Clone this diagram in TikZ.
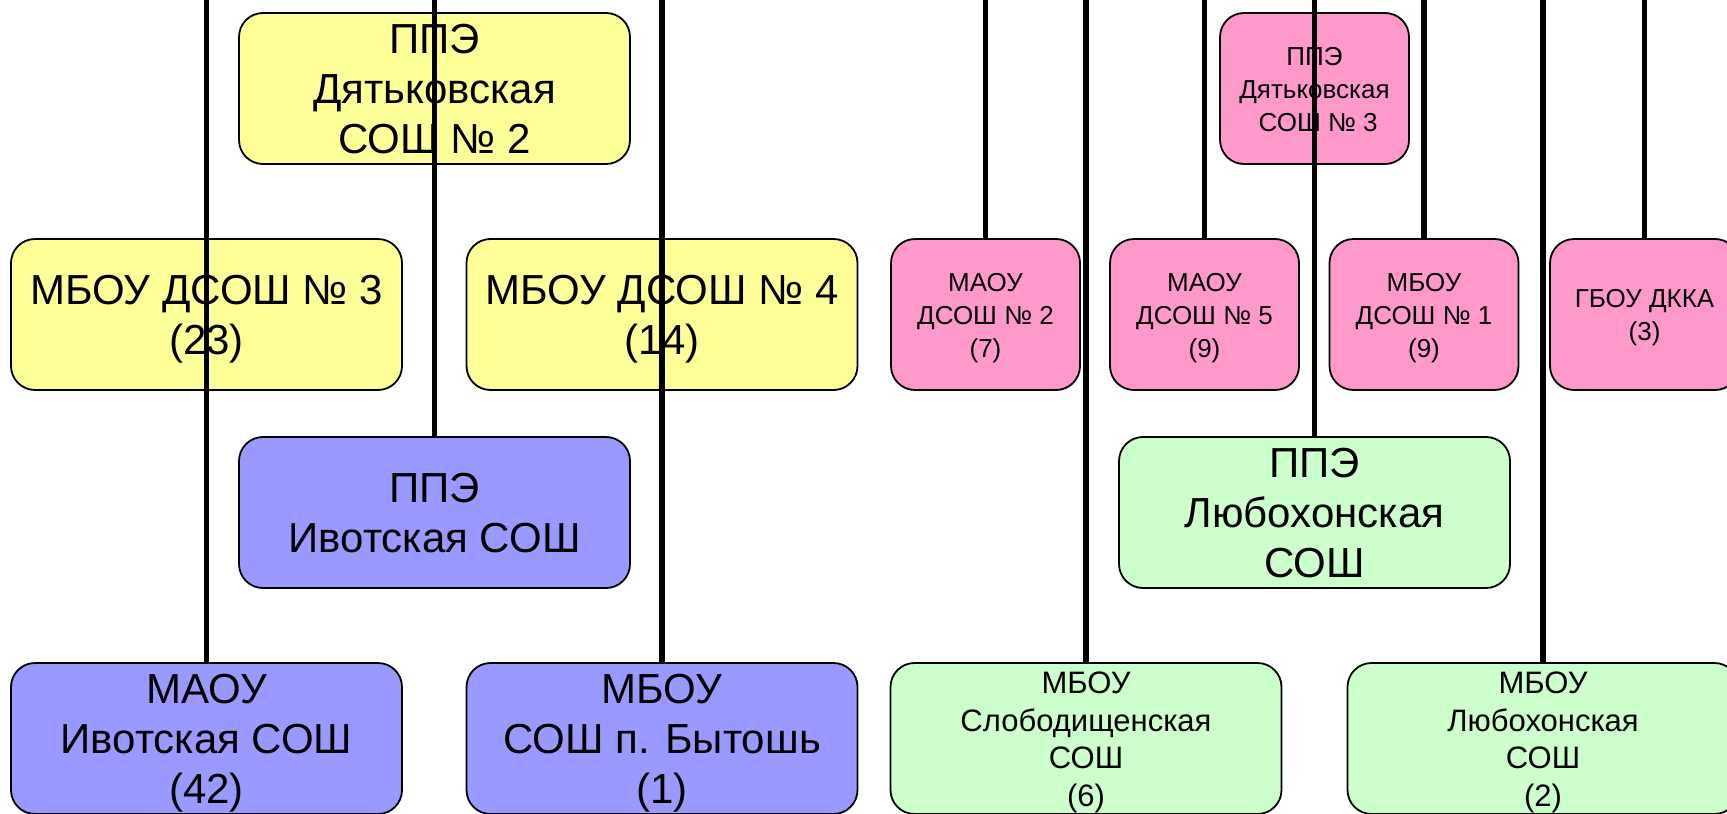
\documentclass[tikz,border=0pt]{standalone}
\usepackage{fontspec}
\setmainfont{Liberation Sans}
\definecolor{yel}{HTML}{FFFF99}
\definecolor{blu}{HTML}{9999FF}
\definecolor{pnk}{HTML}{FF99CC}
\definecolor{grn}{HTML}{CCFFCC}
\newcommand\ls{\rule[-0.2\baselineskip]{0pt}{\baselineskip}}
\tikzset{
  box/.style={draw=black, line width=0.9pt, rounded corners=12pt, align=center,
    inner sep=0pt, outer sep=0pt},
  bigbox/.style={box, minimum width=195.5pt, minimum height=75.5pt,
    font=\fontsize{21}{25}\selectfont},
  pinkbox/.style={box, fill=pnk, minimum width=94.5pt, minimum height=75.5pt,
    font=\fontsize{13}{16.5}\selectfont},
  greensmall/.style={box, fill=grn, minimum width=195.5pt, minimum height=75.5pt,
    font=\fontsize{15.5}{18.75}\selectfont},
  link/.style={line width=2.6pt, draw=black}
}
\begin{document}
\begin{tikzpicture}[x=0.5pt, y=-0.5pt]
\useasboundingbox (0,0) rectangle (1727,813);
% yellow
\node[bigbox, fill=yel] (ppe2) at (434.5,88.5) {\ls ППЭ\\\ls Дятьковская\\\ls СОШ № 2};
\node[bigbox, fill=yel] (d3) at (206.5,314.5) {\ls МБОУ ДСОШ № 3\\\ls (23)};
\node[bigbox, fill=yel] (d4) at (662,314.5) {\ls МБОУ ДСОШ № 4\\\ls (14)};
% blue
\node[bigbox, fill=blu] (ppeI) at (434.5,512.5) {\ls ППЭ\\\ls Ивотская СОШ};
\node[bigbox, fill=blu] (maoI) at (206.5,738.5) {\ls МАОУ\\\ls Ивотская СОШ\\\ls (42)};
\node[bigbox, fill=blu] (byt) at (662,738.5) {\ls МБОУ\\\ls СОШ п. Бытошь\\\ls (1)};
% pink
\node[pinkbox] (ppe3) at (1314.5,88.5) {\ls ППЭ\\\ls Дятьковская\\\ls\ СОШ № 3};
\node[pinkbox] (d2) at (985.5,314.5) {\ls МАОУ\\\ls ДСОШ № 2\\\ls (7)};
\node[pinkbox] (d5) at (1204.5,314.5) {\ls МАОУ\\\ls ДСОШ № 5\\\ls (9)};
\node[pinkbox] (d1) at (1424,314.5) {\ls МБОУ\\\ls ДСОШ № 1\\\ls (9)};
\node[pinkbox] (gbou) at (1644.5,314.5) {\ls ГБОУ ДККА\\\ls (3)};
% green
\node[bigbox, fill=grn] (ppeL) at (1314.5,512.5) {\ls ППЭ\\\ls Любохонская\\\ls СОШ};
\node[greensmall] (slob) at (1086,738.5) {\ls МБОУ\\\ls Слободищенская\\\ls СОШ\\\ls (6)};
\node[greensmall] (lyub) at (1543,738.5) {\ls МБОУ\\\ls Любохонская\\\ls СОШ\\\ls (2)};
% connector free ends above the top edge
\foreach \n/\t in {maoI/ta, ppeI/tb, byt/tc, d2/td, slob/te, d5/tf, ppeL/tg, d1/th, lyub/ti, gbou/tj}
  \coordinate (\t) at (\n.north |- 0,-10);
\foreach \n/\t in {maoI/ta, ppeI/tb, byt/tc, d2/td, slob/te, d5/tf, ppeL/tg, d1/th, lyub/ti, gbou/tj}
  \draw[link] (\t) -- (\n.north);
\end{tikzpicture}
\end{document}
